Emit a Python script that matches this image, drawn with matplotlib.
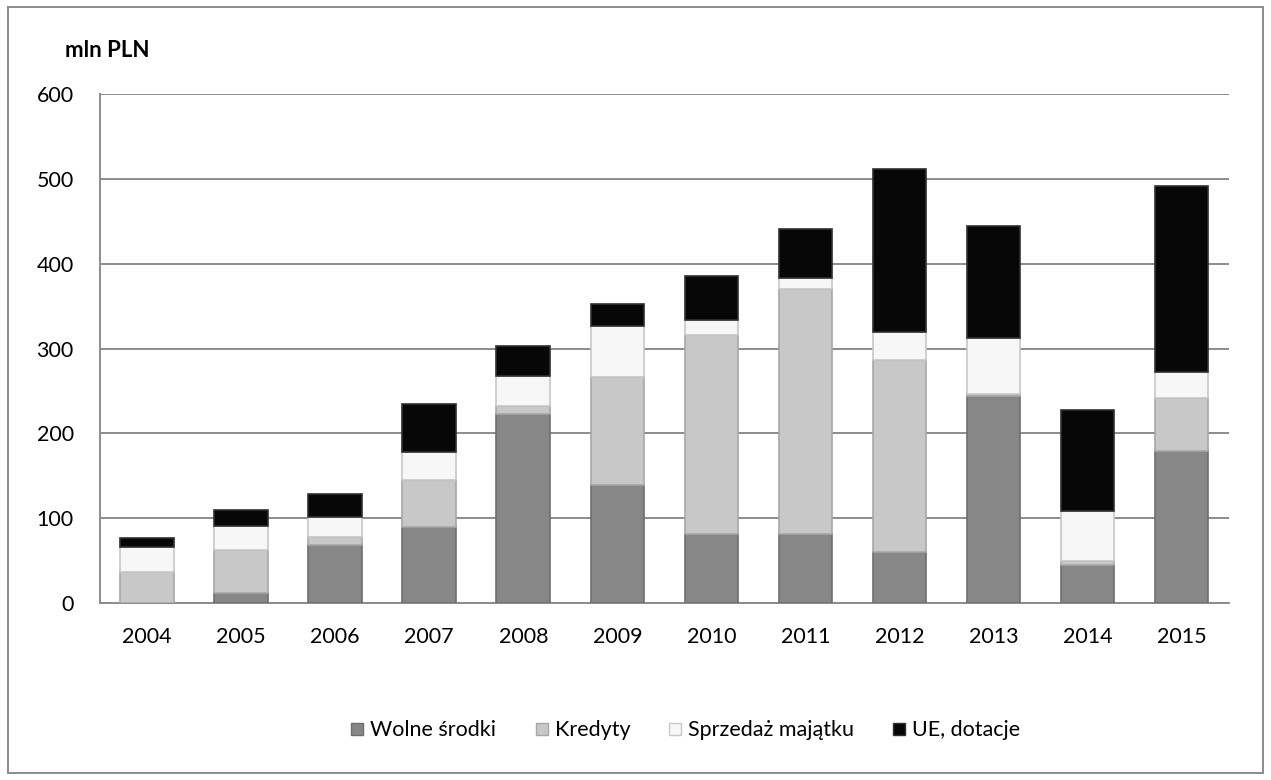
import numpy as np
import matplotlib.pyplot as plt
from matplotlib.patches import Rectangle
from matplotlib.lines import Line2D

# Values (mln PLN)
years = ['2004', '2005', '2006', '2007', '2008', '2009',
         '2010', '2011', '2012', '2013', '2014', '2015']
wolne = [0, 12, 68, 90, 223, 139, 81, 81, 60, 244, 45, 179]
kredyty = [37, 50, 10, 55, 9, 128, 235, 289, 226, 2, 4, 63]
sprzedaz = [29, 29, 23, 33, 36, 60, 18, 13, 33, 66, 59, 30]
ue = [11, 19, 27, 57, 35, 25, 51, 58, 193, 132, 119, 220]

series_names = ['Wolne środki', 'Kredyty', 'Sprzedaż majątku', 'UE, dotacje']
colors = ['#878787', '#c8c8c8', '#f7f7f7', '#070707']
edges = ['#6e6e6e', '#a8a8a8', '#c8c8c8', '#303030']

plt.rcParams['font.family'] = ['Lato', 'DejaVu Sans']

fig = plt.figure(figsize=(12.71, 7.8), dpi=100)
ax = fig.add_axes([0.0787, 0.2269, 0.888, 0.6526])

x = np.arange(len(years))
bottom = np.zeros(len(years))
for vals, col, ec in zip([wolne, kredyty, sprzedaz, ue], colors, edges):
    vals = np.array(vals, dtype=float)
    ax.bar(x, vals, 0.57, bottom=bottom, color=col, edgecolor=ec,
           linewidth=1.2, zorder=3)
    bottom += vals

ax.set_xlim(-0.5, len(years) - 0.5)
ax.set_ylim(0, 600)
ax.set_yticks(range(0, 601, 100))
ax.set_xticks(x)
ax.set_xticklabels(years)
ax.tick_params(length=0, labelsize=15.5, colors='black')
ax.tick_params(axis='x', pad=17)
ax.tick_params(axis='y', pad=19)
ax.yaxis.grid(True, color='#8c8c8c', linewidth=1.4, zorder=0)
for s in ['top', 'right']:
    ax.spines[s].set_visible(False)
for s in ['left', 'bottom']:
    ax.spines[s].set_color('#8c8c8c')
    ax.spines[s].set_linewidth(1.4)

fig.text(0.051, 0.935, 'mln PLN', fontsize=16, fontweight='bold', va='center')

handles = [Line2D([0], [0], marker='s', linestyle='none', markersize=9,
                  markerfacecolor=c, markeredgecolor=e)
           for c, e in zip(colors, edges)]
fig.legend(handles, series_names, loc='center', bbox_to_anchor=(0.537, 0.064),
           ncol=4, frameon=False, fontsize=15.5, handletextpad=0.0,
           handlelength=1.2, columnspacing=1.5)

fig.patches.append(Rectangle((0.006, 0.009), 0.988, 0.982, transform=fig.transFigure,
                             fill=False, edgecolor='#8c8c8c', linewidth=1.4))

fig.savefig('out.png', dpi=100)
